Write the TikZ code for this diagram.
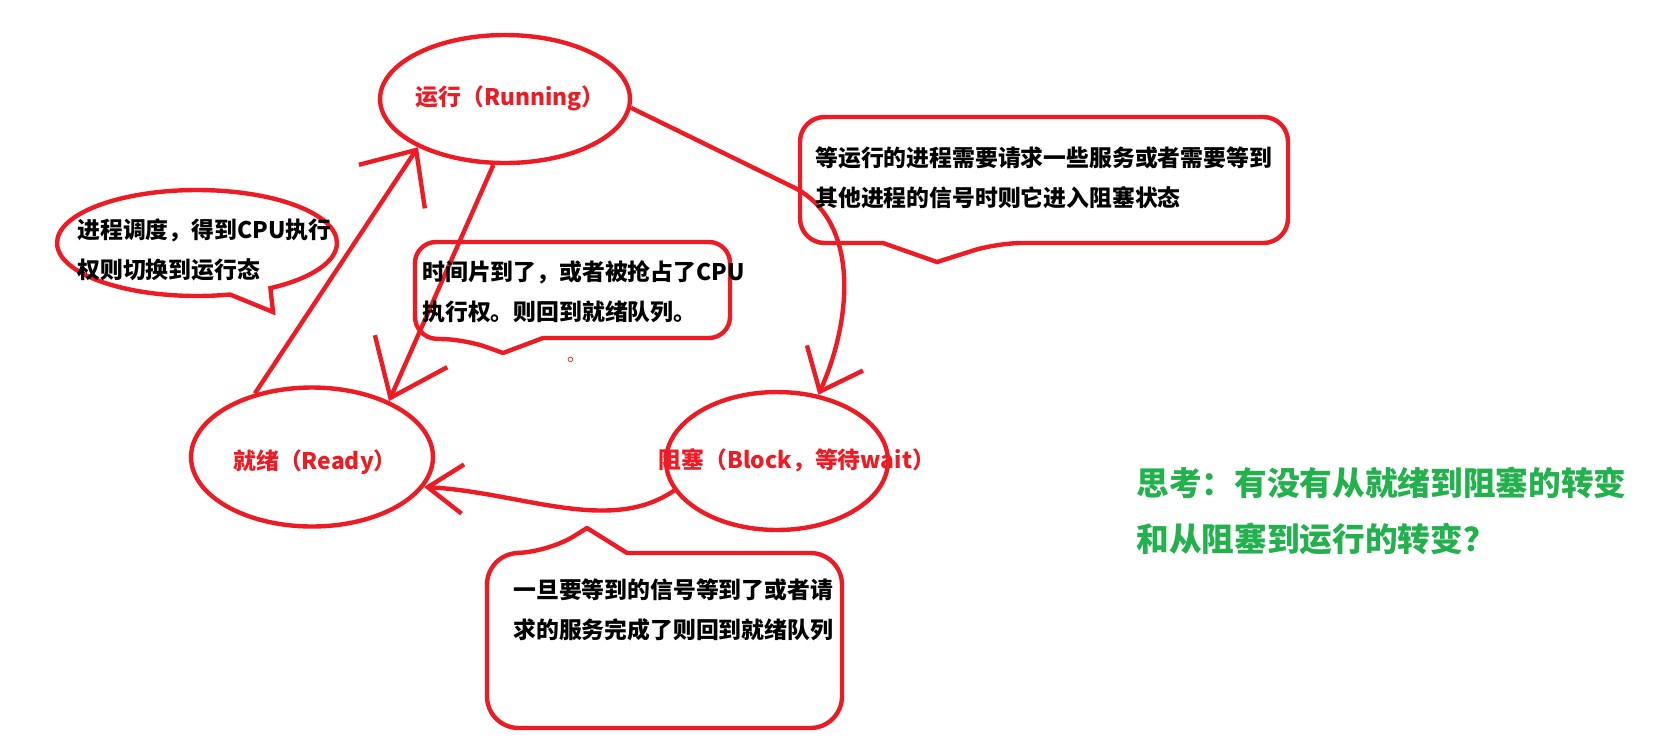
\documentclass[tikz,border=0pt]{standalone}
\usepackage{fontspec}
\setmainfont{Noto Sans CJK SC}
\usepackage{xcolor}
\definecolor{pred}{RGB}{237,28,36}
\definecolor{pgreen}{RGB}{34,177,76}
\usetikzlibrary{arrows.meta,shapes,positioning,calc}

\begin{document}
\begin{tikzpicture}[x=0.02cm,y=-0.02cm,
  state/.style={ellipse,draw=pred,line width=2.5pt,inner sep=0pt},
  statelbl/.style={text=pred,font=\bfseries\fontsize{13}{16}\selectfont,inner sep=0pt},
  note/.style={align=left,anchor=west,inner sep=0pt,font=\bfseries\fontsize{13}{22.7}\selectfont},
  bubble/.style={draw=pred,line width=2.5pt,line join=round},
  conn/.style={draw=pred,line width=2.5pt}]
  \path[use as bounding box,fill=white] (0,0) rectangle (1661,752);
  % the three states
  \node[state,minimum width=5cm,minimum height=2.56cm] (run) at (505,99) {};
  \node[state,minimum width=4.84cm,minimum height=2.78cm] (rdy) at (312,457) {};
  \node[state,minimum width=4.44cm,minimum height=2.76cm] (blk) at (777,461) {};
  \node[statelbl] (runlbl) at (510,98) {运行（Running）};
  \node[statelbl] (rdylbl) at (315,462) {就绪（Ready）};
  \node[statelbl] (blklbl) at (797,460) {阻塞（Block，等待wait）};
  % transitions
  \draw[conn,-{Straight Barb[length=25pt,width=45pt]}] (rdy.132) -- (run.209);
  \draw[conn,-{Straight Barb[length=29pt,width=45pt]}] (run.-100) -- (rdy.36);
  \coordinate (bend) at (795,188);
  \draw[conn,-{Straight Barb[length=21pt,width=35pt]}] (run.-4) -- (bend) .. controls (860,222) and (852,320) .. (blk.58);
  \draw[conn,-{Straight Barb[length=20pt,width=28pt]}] (blk.196) .. controls (610,535) and (520,492) .. (rdy.-15);
  % callouts
  \node[ellipse callout,draw=pred,line width=2.5pt,minimum width=5.6cm,minimum height=2.12cm,
        callout absolute pointer={(273,312)},callout pointer arc=18] (schedbub) at (197,243) {};
  \node[note] (schednote) at (77,250) {进程调度，得到CPU执行\\权则切换到运行态};

  \draw[bubble] (503,353) -- (543,338) [rounded corners=12pt] -- (730,338) -- (730,242)
    -- (415,242) -- (415,338) -- (467,340) [sharp corners] -- cycle;
  \node[note] (timenote) at (422,292) {时间片到了，或者被抢占了CPU\\执行权。则回到就绪队列。};
  \node[text=pred,font=\fontsize{10}{12}\selectfont,inner sep=0pt] (dot) at (576,360) {。};

  \draw[bubble] (937,262) -- (883,243) [rounded corners=14pt] -- (800,243) -- (800,117)
    -- (1288,117) -- (1288,243) -- (997,243) [sharp corners] -- cycle;
  \node[note] (blknote) at (815,178) {等运行的进程需要请求一些服务或者需要等到\\其他进程的信号时则它进入阻塞状态};

  \draw[bubble] (587,528) -- (627,553) [rounded corners=18pt] -- (842,553) -- (842,728)
    -- (487,728) -- (487,553) -- (547,553) [sharp corners] -- cycle;
  \node[note] (wakenote) at (513,610) {一旦要等到的信号等到了或者请\\求的服务完成了则回到就绪队列};

  % question
  \node[note,text=pgreen,font=\bfseries\fontsize{18.6}{32.3}\selectfont] (question) at (1136,511)
    {思考：有没有从就绪到阻塞的转变\\和从阻塞到运行的转变？};
\end{tikzpicture}
\end{document}
